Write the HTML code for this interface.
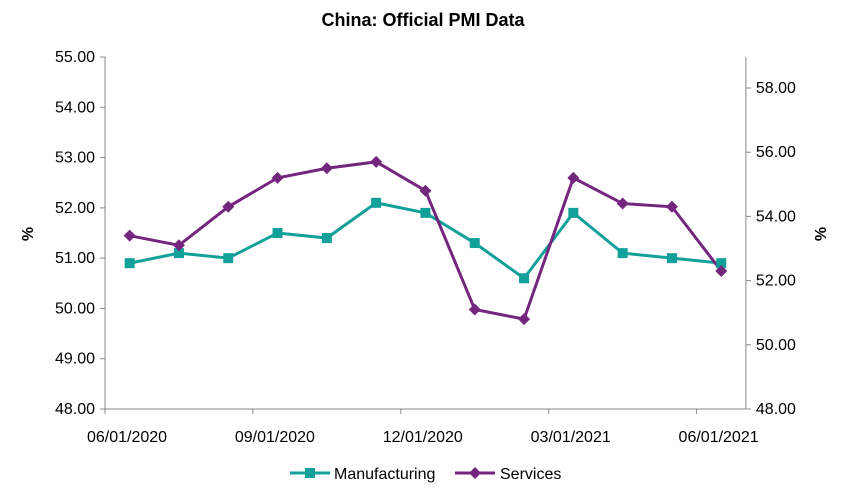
<!DOCTYPE html>
<html><head><meta charset="utf-8"><style>
body{margin:0;background:#fff;}
svg{display:block;font-family:"Liberation Sans Narrow","Liberation Sans",Arial,sans-serif;}
</style></head><body>
<svg id="chart" width="845" height="492">
<text x="423" y="26" text-anchor="middle" font-size="18" font-weight="bold">China: Official PMI Data</text>
<g id="axes"></g>
<g id="series"></g>
<g>
<line x1="290" y1="473" x2="330" y2="473" stroke="#12a09a" stroke-width="3"/>
<rect x="305" y="468" width="10" height="10" fill="#12a09a"/>
<text x="334" y="479" font-size="16">Manufacturing</text>
<line x1="455" y1="473" x2="495" y2="473" stroke="#74267e" stroke-width="3"/>
<polygon points="475,467 481,473 475,479 469,473" fill="#74267e"/>
<text x="500" y="479" font-size="16">Services</text>
</g>
</svg>
<script>
const months = ["Jun-20","Jul-20","Aug-20","Sep-20","Oct-20","Nov-20","Dec-20","Jan-21","Feb-21","Mar-21","Apr-21","May-21","Jun-21"];
const manufacturing = [50.9,51.1,51.0,51.5,51.4,52.1,51.9,51.3,50.6,51.9,51.1,51.0,50.9];
const services = [53.4,53.1,54.3,55.2,55.5,55.7,54.8,51.1,50.8,55.2,54.4,54.3,52.3];
const leftTicks = [48,49,50,51,52,53,54,55];
const rightTicks = [48,50,52,54,56,58];
const xLabels = ["06/01/2020","09/01/2020","12/01/2020","03/01/2021","06/01/2021"];

const NS="http://www.w3.org/2000/svg";
const X0=105, MW=49.3, TOP=57, BOT=409;
const xPos=i=>X0+(i+0.5)*MW;
const yL=v=>BOT-(v-48)/(55-48)*(BOT-TOP);
const yR=v=>BOT-(v-48)*32.1;
function mk(t,a,p){const e=document.createElementNS(NS,t);for(const k in a)e.setAttribute(k,a[k]);p.appendChild(e);return e;}
const ax=document.getElementById('axes');
const XR=X0+months.length*MW;
let l=mk('line',{x1:X0,y1:TOP,x2:X0,y2:BOT,stroke:'#888'},ax);


l=mk('line',{x1:XR,y1:TOP,x2:XR,y2:BOT,stroke:'#888'},ax);


l=mk('line',{x1:X0,y1:BOT,x2:XR,y2:BOT,stroke:'#888'},ax);


leftTicks.forEach(v=>{
  mk('line',{x1:X0-5,y1:yL(v),x2:X0,y2:yL(v),stroke:'#888'},ax);
  const t=mk('text',{x:X0-10,y:yL(v)+5,'text-anchor':'end','font-size':16},ax);
  t.textContent=v.toFixed(2);
  
  
});
rightTicks.forEach(v=>{
  mk('line',{x1:XR,y1:yR(v),x2:XR+5,y2:yR(v),stroke:'#888'},ax);
  const t=mk('text',{x:XR+10,y:yR(v)+5,'font-size':16},ax);
  t.textContent=v.toFixed(2);
  
  
});
xLabels.forEach((s,k)=>{
  const x=X0+k*3*MW;
  mk('line',{x1:x,y1:BOT,x2:x,y2:BOT+5,stroke:'#888'},ax);
  const t=mk('text',{x:x+22,y:BOT+33,'text-anchor':'middle','font-size':16},ax);
  t.textContent=s;
  
  
});
let t=mk('text',{x:0,y:0,'font-size':16,'font-weight':'bold',transform:'translate(33,234) rotate(-90)','text-anchor':'middle'},ax);
t.textContent='%';


t=mk('text',{x:0,y:0,'font-size':16,'font-weight':'bold',transform:'translate(826,234) rotate(-90)','text-anchor':'middle'},ax);
t.textContent='%';



const sg=document.getElementById('series');
let p=mk('polyline',{points:manufacturing.map((v,i)=>xPos(i)+','+yL(v)).join(' '),fill:'none',stroke:'#12a09a','stroke-width':3},sg);


p=mk('polyline',{points:services.map((v,i)=>xPos(i)+','+yR(v)).join(' '),fill:'none',stroke:'#74267e','stroke-width':3},sg);


manufacturing.forEach((v,i)=>{
  const r=mk('rect',{x:xPos(i)-5,y:yL(v)-5,width:10,height:10,fill:'#12a09a'},sg);
  
  
});
services.forEach((v,i)=>{
  const x=xPos(i),y=yR(v);
  const d=mk('polygon',{points:`${x},${y-6} ${x+6},${y} ${x},${y+6} ${x-6},${y}`,fill:'#74267e'},sg);
  
  
});
</script>
</body></html>
